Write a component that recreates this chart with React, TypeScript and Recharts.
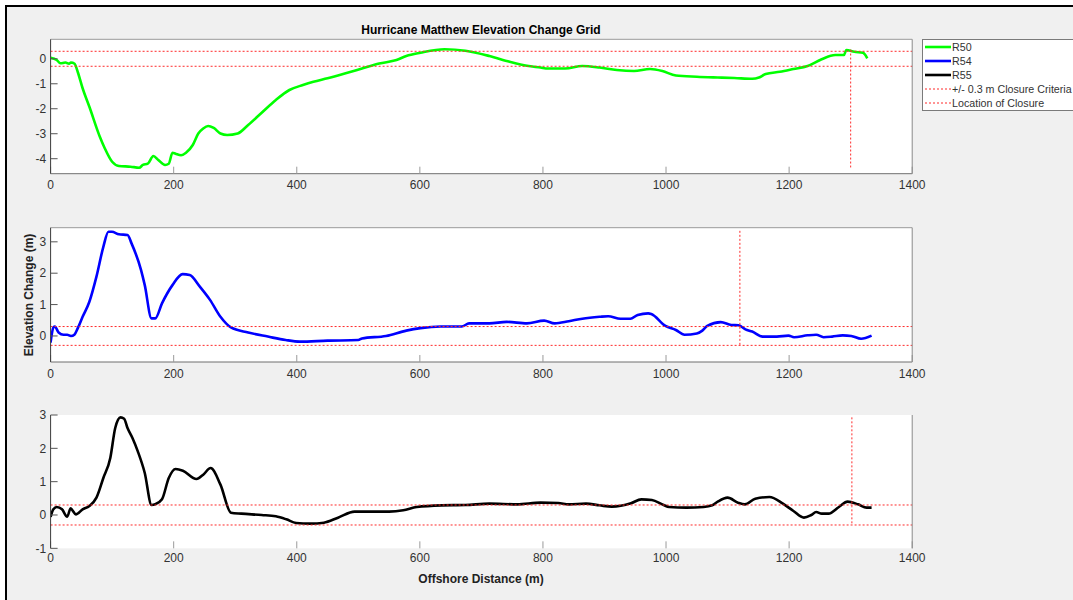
import React from 'react'
import { LineChart, Line, XAxis, YAxis, ReferenceLine, CartesianGrid } from 'recharts'

const FONT = '"Liberation Sans", Arial, sans-serif'
const TEXT = '#333333'
const CLOSURE_COLOR = '#ff2a2a'

const DIST_TICKS = [0, 200, 400, 600, 800, 1000, 1200, 1400]
const DIST_RANGE = [0, 1400]
const CLOSURE_BAND = [0.3, -0.3]

// offshore distance (m), elevation change (m)
const R50: [number, number][] = [
  [0, 0.04], [10, -0.05], [16, -0.18], [24, -0.15], [30, -0.2], [33, -0.15], [39, -0.2],
  [44, -0.52], [52, -1.18], [63, -1.92], [80, -3.12], [88, -3.58], [100, -4.12], [111, -4.29],
  [130, -4.32], [144, -4.36], [150, -4.25], [158, -4.2], [167, -3.89], [175, -4.05], [186, -4.25],
  [192, -4.2], [198, -3.76], [203, -3.8], [212, -3.86], [220, -3.76], [231, -3.45], [240, -2.99],
  [248, -2.79], [256, -2.69], [265, -2.77], [276, -2.99], [287, -3.05], [304, -2.99], [321, -2.65],
  [343, -2.16], [366, -1.65], [388, -1.25], [410, -1.05], [427, -0.92], [450, -0.78], [478, -0.59],
  [506, -0.39], [534, -0.19], [562, -0.05], [578, 0.11], [601, 0.24], [640, 0.38], [674, 0.32],
  [713, 0.11], [746, -0.12], [774, -0.28], [796, -0.35], [808, -0.39], [836, -0.39], [864, -0.29],
  [892, -0.35], [920, -0.45], [948, -0.49], [974, -0.41], [994, -0.49], [1016, -0.67], [1050, -0.72],
  [1084, -0.75], [1111, -0.77], [1140, -0.8], [1151, -0.75], [1162, -0.61], [1185, -0.52],
  [1207, -0.41], [1230, -0.29], [1252, -0.03], [1275, 0.15], [1289, 0.15], [1293, 0.35],
  [1306, 0.28], [1320, 0.24], [1327, 0.02],
]

const R54: [number, number][] = [
  [0, -0.21], [4.5, 0.27], [7, 0.3], [13, 0.11], [21, 0.04], [27, 0.04], [33, 0], [39, 0.05],
  [44, 0.24], [52, 0.61], [63, 1.09], [74.5, 1.89], [85.7, 2.84], [94, 3.32], [99.7, 3.32],
  [111, 3.24], [125, 3.22], [131.5, 2.95], [147, 2.1], [153, 1.62], [164, 0.56], [170, 0.56],
  [181, 1.04], [198, 1.62], [214.5, 1.97], [226, 1.94], [242.5, 1.57], [259, 1.15], [276, 0.61],
  [293, 0.27], [321, 0.11], [353, -0.02], [382, -0.13], [405, -0.18], [450, -0.15], [500, -0.13],
  [506, -0.08], [545, 0], [578, 0.17], [601, 0.25], [634, 0.3], [668, 0.3], [680, 0.4], [713, 0.4],
  [741, 0.45], [774, 0.4], [802, 0.49], [819, 0.4], [842, 0.47], [864, 0.55], [892, 0.61],
  [906, 0.63], [926, 0.55], [942, 0.55], [954, 0.67], [971, 0.72], [976, 0.7], [999, 0.32],
  [1016, 0.19], [1030, 0.04], [1050, 0.08], [1059, 0.17], [1067, 0.32], [1089, 0.44], [1106, 0.35],
  [1118, 0.34], [1129, 0.21], [1140, 0.14], [1157, -0.02], [1180, -0.02], [1199, 0.01],
  [1208, -0.04], [1230, 0.02], [1244, 0.04], [1256, -0.04], [1270, -0.02], [1287, 0.02],
  [1301, 0], [1317, -0.09], [1334, 0.01],
]

const R55: [number, number][] = [
  [0, -0.06], [4.5, 0.17], [10, 0.24], [18.5, 0.17], [27, -0.05], [32.5, 0.2], [35.5, 0.14],
  [41, 0.02], [52, 0.17], [63, 0.27], [74.5, 0.52], [85.7, 1.11], [97, 1.71], [105, 2.61],
  [113.7, 2.93], [119.5, 2.89], [125, 2.61], [133, 2.31], [141.7, 1.91], [153, 1.26], [164, 0.3],
  [170, 0.32], [181, 0.47], [192, 1.11], [203, 1.38], [215, 1.33], [237, 1.08], [248, 1.21],
  [260, 1.41], [276, 0.91], [293, 0.07], [310, 0.04], [343, 0], [366, -0.04], [383, -0.13],
  [399, -0.24], [422, -0.26], [444, -0.23], [467, -0.08], [494, 0.1], [522, 0.1], [550, 0.1],
  [573, 0.14], [595, 0.24], [635, 0.29], [674, 0.3], [713, 0.34], [758, 0.32], [796, 0.37],
  [825, 0.36], [842, 0.32], [870, 0.34], [892, 0.29], [912, 0.25], [943, 0.35], [960, 0.47],
  [977, 0.45], [996, 0.3], [1005, 0.24], [1033, 0.22], [1061, 0.24], [1075, 0.29], [1084, 0.4],
  [1100, 0.52], [1117, 0.37], [1128, 0.32], [1145, 0.49], [1168, 0.54], [1190, 0.34],
  [1207, 0.12], [1224, -0.08], [1236, 0], [1244, 0.09], [1253, 0.04], [1264, 0.04], [1281, 0.24],
  [1295, 0.4], [1312, 0.32], [1326, 0.22], [1334, 0.22],
]

// closure location: distance, top and bottom of the marker (m)
const R50_CLOSURE = [1300, 0.37, -4.35]
const R54_CLOSURE = [1120, 3.35, -0.3]
const R55_CLOSURE = [1302, 2.93, -0.3]

const LEGEND = [
  { name: 'R50', color: '#00ff00', dashed: false },
  { name: 'R54', color: '#0000ff', dashed: false },
  { name: 'R55', color: '#000000', dashed: false },
  { name: '+/- 0.3 m Closure Criteria', color: CLOSURE_COLOR, dashed: true },
  { name: 'Location of Closure', color: CLOSURE_COLOR, dashed: true },
]

const PLOT_LEFT = 50.6
const PLOT_RIGHT = 912.2

interface PanelProps {
  points: [number, number][]
  color: string
  domain: [number, number]
  ticks: number[]
  closure: number[]
  top: number
  height: number
  plotTop: number
  plotBottom: number
  boxed: boolean
  xLabelGap: number
}

// axes are 1px thick so recharts still draws them; margins make up the rest
function Panel({ points, color, domain, ticks, closure, top, height, plotTop, plotBottom, boxed, xLabelGap }: PanelProps) {
  const data = points.map(([x, y]) => ({ x, y }))
  const [cx, cTop, cBottom] = closure
  const tickStyle = { fontSize: 12, fill: TEXT, fontFamily: FONT }

  return (
    <div style={{ position: 'absolute', left: 0, top }}>
      <LineChart
        width={1073}
        height={height}
        data={data}
        margin={{
          top: plotTop - 1,
          right: 1073 - PLOT_RIGHT - 1,
          bottom: height - plotBottom - 1,
          left: PLOT_LEFT - 1,
        }}
      >
        <CartesianGrid xAxisId="b" yAxisId="l" horizontal={false} vertical={false} fill="#ffffff" />
        <XAxis
          xAxisId="b"
          dataKey="x"
          type="number"
          domain={DIST_RANGE}
          ticks={DIST_TICKS}
          allowDataOverflow
          height={1}
          tickSize={-7}
          tickMargin={xLabelGap}
          tick={tickStyle}
          axisLine={boxed ? { stroke: '#6e6e6e' } : false}
          tickLine={{ stroke: '#9a9a9a' }}
        />
        <XAxis
          xAxisId="t"
          orientation="top"
          dataKey="x"
          type="number"
          domain={DIST_RANGE}
          ticks={DIST_TICKS}
          allowDataOverflow
          height={1}
          tickSize={-7}
          tick={false}
          axisLine={boxed ? { stroke: '#9a9a9a' } : false}
          tickLine={{ stroke: '#b0b0b0' }}
        />
        <YAxis
          yAxisId="l"
          type="number"
          domain={domain}
          ticks={ticks}
          allowDataOverflow
          width={1}
          tickSize={-7}
          tickMargin={11.5}
          tick={tickStyle}
          axisLine={{ stroke: '#3a3a3a' }}
          tickLine={{ stroke: '#555555' }}
        />
        <YAxis
          yAxisId="r"
          orientation="right"
          type="number"
          domain={domain}
          ticks={ticks}
          allowDataOverflow
          width={1}
          tickSize={-9}
          tick={false}
          axisLine={{ stroke: '#8a8a8a' }}
          tickLine={{ stroke: '#707070' }}
        />
        <Line
          xAxisId="b"
          yAxisId="l"
          type="monotone"
          dataKey="y"
          stroke={color}
          strokeWidth={2.6}
          dot={false}
          activeDot={false}
          isAnimationActive={false}
        />
        {CLOSURE_BAND.map((v) => (
          <ReferenceLine
            key={`band-${v}`}
            xAxisId="b"
            yAxisId="l"
            segment={[{ x: DIST_RANGE[0], y: v }, { x: DIST_RANGE[1], y: v }]}
            stroke={CLOSURE_COLOR}
            strokeWidth={1}
            strokeDasharray="2 2"
          />
        ))}
        <ReferenceLine
          xAxisId="b"
          yAxisId="l"
          segment={[{ x: cx, y: cTop }, { x: cx, y: cBottom }]}
          stroke={CLOSURE_COLOR}
          strokeWidth={1}
          strokeDasharray="2 2"
        />
      </LineChart>
    </div>
  )
}

function Legend() {
  return (
    <div
      style={{
        position: 'absolute',
        left: 922,
        top: 39,
        width: 160,
        height: 72,
        background: '#ffffff',
        border: '1px solid #7a7a7a',
        borderRight: 'none',
        boxSizing: 'border-box',
      }}
    >
      {LEGEND.map((item) => (
        <div key={item.name} style={{ display: 'flex', alignItems: 'center', height: 14, lineHeight: '14px' }}>
          <svg width={28} height={14} style={{ flex: 'none', marginLeft: 2 }}>
            <line
              x1={0}
              x2={26}
              y1={7}
              y2={7}
              stroke={item.color}
              strokeWidth={item.dashed ? 1 : 2.6}
              strokeDasharray={item.dashed ? '2 2' : undefined}
            />
          </svg>
          <span style={{ fontFamily: FONT, fontSize: 10.7, color: TEXT, whiteSpace: 'nowrap', marginLeft: -1 }}>
            {item.name}
          </span>
        </div>
      ))}
    </div>
  )
}

export default function App() {
  return (
    <div
      style={{
        position: 'absolute',
        left: 0,
        top: 0,
        width: 1073,
        height: 600,
        background: '#ffffff',
        overflow: 'hidden',
      }}
    >
      <div
        style={{
          position: 'absolute',
          left: 5,
          top: 5,
          width: 1068,
          height: 595,
          background: '#f0f0f0',
          borderLeft: '2px solid #000',
          borderTop: '2px solid #000',
          boxSizing: 'border-box',
        }}
      />
      <div
        style={{
          position: 'absolute',
          left: 281,
          width: 400,
          top: 23,
          textAlign: 'center',
          fontFamily: FONT,
          fontWeight: 'bold',
          fontSize: 12,
          color: '#000',
        }}
      >
        Hurricane Matthew Elevation Change Grid
      </div>
      <Panel
        points={R50}
        color="#00ff00"
        domain={[-4.6, 0.78]}
        ticks={[-4, -3, -2, -1, 0]}
        closure={R50_CLOSURE}
        top={0}
        height={200}
        plotTop={39.3}
        plotBottom={173.7}
        boxed
        xLabelGap={14}
      />
      <Panel
        points={R54}
        color="#0000ff"
        domain={[-0.83, 3.45]}
        ticks={[0, 1, 2, 3]}
        closure={R54_CLOSURE}
        top={200}
        height={190}
        plotTop={27.7}
        plotBottom={162}
        boxed
        xLabelGap={14.5}
      />
      <Panel
        points={R55}
        color="#000000"
        domain={[-1, 3]}
        ticks={[-1, 0, 1, 2, 3]}
        closure={R55_CLOSURE}
        top={400}
        height={200}
        plotTop={15}
        plotBottom={148.33}
        boxed={false}
        xLabelGap={12.3}
      />
      <div
        style={{
          position: 'absolute',
          left: 28.5,
          top: 295,
          transform: 'translate(-50%, -50%) rotate(-90deg)',
          whiteSpace: 'nowrap',
          fontFamily: FONT,
          fontWeight: 'bold',
          fontSize: 12,
          color: '#222',
        }}
      >
        Elevation Change (m)
      </div>
      <div
        style={{
          position: 'absolute',
          left: 381,
          width: 200,
          top: 572,
          textAlign: 'center',
          fontFamily: FONT,
          fontWeight: 'bold',
          fontSize: 12,
          color: '#222',
        }}
      >
        Offshore Distance (m)
      </div>
      <Legend />
    </div>
  )
}
